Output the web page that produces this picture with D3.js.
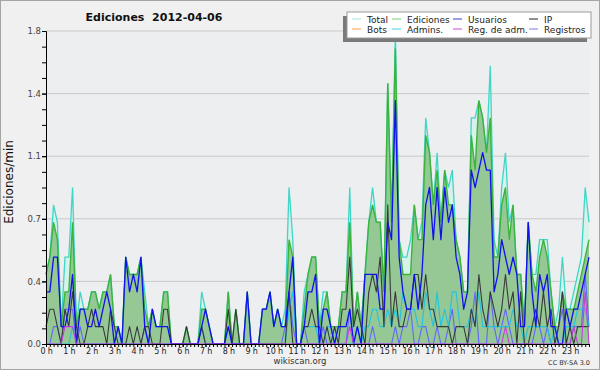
<!DOCTYPE html>
<html>
<head>
<meta charset="utf-8">
<title>Ediciones 2012-04-06</title>
<script src="https://cdn.jsdelivr.net/npm/d3@7"></script>
<style>
  body { margin: 0; background: #fff; }
  svg text { font-family: "DejaVu Sans", sans-serif; }
</style>
</head>
<body>
<svg id="chart" width="600" height="370"></svg>
<script>
// 10-minute bins, values in edits per minute
var total = [0.4,0.5,0.8,0.7,0.1,0.5,0.5,0.9,0.1,0.3,0.2,0.2,0.3,0.3,0.2,0.3,0.3,0.4,0.1,0.1,
  0,0.5,0.4,0.4,0.4,0.5,0.3,0.1,0.2,0.1,0.1,0.3,0.3,0,0,0,0,0.1,0,0,
  0,0.3,0.2,0.1,0,0,0,0,0.3,0,0.2,0,0,0.3,0,0,0,0.2,0.2,0.3,
  0.1,0.2,0.1,0.2,0.9,0.6,0,0,0.3,0.4,0.5,0.5,0.1,0.3,0.3,0.1,0.1,0.1,0.3,0.3,
  0.9,0.1,0.3,0.1,0.4,0.7,0.9,0.7,0.7,0.3,1.5,0.7,1.8,0.6,0.5,0.5,0.6,0.8,0.6,0.7,
  1.3,1.1,0.8,1.1,0.7,1.0,0.9,1.0,0.6,0.5,0.3,0.3,1.3,1.3,1.4,1.3,1.1,1.6,0.6,0.5,
  0.9,1.1,0.7,0.8,0.4,0.4,0.1,0.7,0.4,0.4,0.6,0.6,0.6,0.3,0.1,0.2,0.5,0.2,0.2,0.3,
  0.4,0.5,0.9,0.7];
var ediciones = [0.4,0.5,0.7,0.6,0.1,0.3,0.3,0.7,0.1,0.2,0.2,0.2,0.3,0.3,0.2,0.3,0.3,0.4,0.1,0.1,
  0,0.5,0.4,0.4,0.4,0.5,0.2,0.1,0.2,0.1,0.1,0.3,0.3,0,0,0,0,0.1,0,0,
  0,0.2,0.2,0.1,0,0,0,0,0.3,0,0.2,0,0,0.3,0,0,0,0.2,0.2,0.3,
  0.1,0.2,0.1,0.1,0.6,0.5,0,0,0.2,0.4,0.5,0.5,0.1,0.2,0.3,0.1,0.1,0.1,0.3,0.3,
  0.7,0.1,0.3,0.1,0.4,0.7,0.8,0.7,0.7,0.3,1.5,0.7,1.7,0.6,0.4,0.4,0.4,0.8,0.6,0.6,
  1.2,1.1,0.8,1.0,0.7,1.0,0.8,0.8,0.6,0.5,0.3,0.3,1.2,1.0,1.4,1.3,1.1,1.3,0.5,0.5,
  0.8,0.9,0.6,0.8,0.4,0.4,0.1,0.7,0.4,0.3,0.5,0.6,0.5,0.3,0.1,0.1,0.3,0.2,0.2,0.2,
  0.3,0.4,0.5,0.6];
var usuarios = [0.3,0.3,0.5,0.5,0.1,0.1,0.2,0.4,0,0.2,0.2,0.1,0.1,0.2,0.1,0.2,0.3,0.2,0,0.1,
  0,0.5,0.3,0.4,0.3,0.5,0.1,0,0.2,0.1,0.1,0.1,0.1,0,0,0,0,0,0,0,
  0,0.1,0.2,0.1,0,0,0,0,0.1,0,0,0,0,0.3,0,0,0,0.2,0.2,0.3,
  0.1,0.2,0.1,0.1,0.3,0.5,0,0,0.1,0.3,0.3,0.4,0,0.2,0.2,0.1,0,0.1,0.1,0.1,
  0.2,0,0.1,0,0.4,0.4,0.4,0.4,0.2,0.2,0.7,0.6,1.4,0.5,0.3,0.2,0.2,0.4,0.2,0.4,
  0.8,0.9,0.6,0.9,0.6,0.9,0.7,0.8,0.5,0.4,0.2,0.3,1.0,0.9,1.0,1.1,1.0,1.0,0.3,0.4,
  0.6,0.5,0.4,0.5,0.4,0.1,0.1,0.7,0.3,0.1,0.4,0.3,0.4,0.1,0.1,0,0,0.2,0.1,0.2,
  0.2,0.3,0.4,0.5];
var ip = [0.1,0.2,0.2,0.1,0,0.2,0.1,0.3,0.1,0,0,0.1,0.2,0.1,0.1,0.1,0,0.2,0.1,0,
  0,0,0.1,0,0.1,0,0.1,0.1,0,0,0,0.2,0.2,0,0,0,0,0.1,0,0,
  0,0.1,0,0,0,0,0,0,0.2,0,0.2,0,0,0,0,0,0,0,0,0,
  0,0,0,0,0.3,0,0,0,0.1,0.1,0.2,0.1,0.1,0,0.1,0,0.1,0,0.2,0.2,
  0.5,0.1,0.2,0.1,0,0.3,0.4,0.3,0.5,0.1,0.8,0.1,0.3,0.1,0.1,0.2,0.2,0.4,0.4,0.2,
  0.4,0.2,0.2,0.1,0.1,0.1,0.1,0,0.1,0.1,0.1,0,0.2,0.1,0.4,0.2,0.1,0.3,0.2,0.1,
  0.2,0.4,0.2,0.3,0,0.3,0,0,0.1,0.2,0.1,0.3,0.1,0.2,0,0.1,0.3,0,0.1,0,
  0.1,0.1,0.1,0.1];
var bots = [0,0,0,0,0,0,0,0,0,0,0,0,0,0,0,0,0,0,0,0,
  0,0,0,0,0,0,0,0,0,0,0,0,0,0,0,0,0,0,0,0,
  0,0,0,0,0,0,0,0,0,0,0,0,0,0,0,0,0,0,0,0,
  0,0,0,0,0,0,0,0,0,0,0,0,0,0,0,0,0,0,0,0,
  0,0,0,0,0,0,0,0,0,0,0,0,0,0,0,0,0,0,0,0,
  0,0,0,0,0,0,0,0,0,0,0,0,0,0,0,0,0,0,0,0,
  0,0,0,0,0,0,0,0,0,0,0,0,0,0,0,0,0,0,0,0,
  0,0,0,0];
var admins = [0,0,0,0,0,0,0,0.1,0,0,0,0,0,0,0,0,0,0,0,0,
  0,0,0,0,0,0,0,0,0,0,0,0,0,0,0,0,0,0,0,0,
  0,0.1,0,0,0,0,0,0,0.1,0,0,0,0,0,0,0,0,0,0,0,
  0,0,0,0,0.2,0.3,0,0,0.1,0.1,0.1,0.1,0,0,0.1,0.1,0,0,0,0,
  0,0,0.1,0,0.1,0.1,0.2,0.2,0.1,0.1,0.2,0.1,0.2,0.1,0.3,0.2,0.2,0.2,0.1,0.1,
  0.3,0.2,0.1,0.3,0.1,0.2,0.1,0.3,0.3,0.1,0.1,0.1,0.2,0.1,0.3,0.1,0.1,0.1,0.1,0.1,
  0.1,0.1,0.1,0.2,0.1,0.1,0,0.1,0.1,0.1,0.1,0.1,0.1,0,0.1,0,0,0.1,0.1,0.1,
  0.2,0.2,0.2,0.1];
var regAdm = [0,0,0,0,0,0.1,0.1,0.1,0,0,0,0,0,0,0,0,0,0,0,0,
  0,0,0,0,0,0,0,0,0,0,0,0,0,0,0,0,0,0,0,0,
  0,0,0,0,0,0,0,0,0,0,0,0,0,0,0,0,0,0,0,0,
  0,0,0,0,0,0,0,0,0,0,0,0,0,0,0,0,0,0,0,0,
  0.1,0,0,0,0,0,0,0,0,0,0,0,0,0,0,0,0,0,0,0,
  0,0,0,0,0,0,0,0,0,0,0,0,0,0,0,0,0,0,0,0,
  0,0.1,0,0,0,0,0,0,0,0,0,0,0,0,0,0,0,0,0,0.1,
  0,0,0.3,0];
var registros = [0,0,0.1,0.1,0,0.2,0.2,0.2,0,0.1,0,0,0,0,0,0,0,0,0,0,
  0,0,0,0,0,0,0.1,0,0,0,0,0,0,0,0,0,0,0,0,0,
  0,0.1,0,0,0,0,0,0,0,0,0,0,0,0,0,0,0,0,0,0,
  0,0,0,0.1,0.3,0.1,0,0,0.1,0,0,0,0,0.1,0,0,0,0,0,0,
  0.2,0,0,0,0,0,0.1,0,0,0,0,0,0.1,0,0.1,0.1,0.2,0,0,0.1,
  0.1,0,0,0.1,0,0,0.1,0.2,0,0,0,0,0.1,0.3,0,0,0,0.3,0.1,0,
  0.1,0.2,0.1,0,0,0,0,0,0,0.1,0.1,0,0.1,0,0,0.1,0.2,0,0,0.1,
  0.1,0.1,0.4,0.1];

var hourLabels = ["0 h","1 h","2 h","3 h","4 h","5 h","6 h","7 h","8 h","9 h","10 h","11 h",
  "12 h","13 h","14 h","15 h","16 h","17 h","18 h","19 h","20 h","21 h","22 h","23 h"];
var yTicks = [0, 0.36, 0.72, 1.08, 1.44, 1.8];
var yTickLabels = ["0.0","0.4","0.7","1.1","1.4","1.8"];

var svg = d3.select("#chart"),
    W = 600, H = 370,
    pL = 46, pR = 589, pT = 31, pB = 344;

// backgrounds
svg.append("rect").attr("x", 0).attr("y", 0).attr("width", W).attr("height", H)
  .attr("fill", "#f0f0f0").attr("stroke", "#a4a4a4").attr("stroke-width", 2);
svg.append("rect").attr("x", pL).attr("y", pT).attr("width", pR - pL).attr("height", pB - pT)
  .attr("fill", "#edeef0");

var x = d3.scaleLinear().domain([0, total.length - 1]).range([pL, pR]);
var y = d3.scaleLinear().domain([0, 1.8]).range([pB, pT]);

// grid
svg.append("g").selectAll("line").data(yTicks.slice(1)).enter().append("line")
  .attr("x1", pL).attr("x2", pR)
  .attr("y1", function(d) { return y(d); }).attr("y2", function(d) { return y(d); })
  .attr("stroke", "#c9c9c9").attr("stroke-width", 1);

var area = function(vals) {
  return d3.area().x(function(d, i) { return x(i); }).y0(y(0)).y1(function(d) { return y(d); })(vals);
};
var line = function(vals) {
  return d3.line().x(function(d, i) { return x(i); }).y(function(d) { return y(d); })(vals);
};

var plot = svg.append("g");
plot.append("path").attr("d", area(total)).attr("fill", "#d8f1eb");
plot.append("path").attr("d", area(ediciones)).attr("fill", "#95c895");
plot.append("path").attr("d", line(total)).attr("fill", "none").attr("stroke", "#3ed6c6").attr("stroke-width", 1.3);
plot.append("path").attr("d", line(ediciones)).attr("fill", "none").attr("stroke", "#3cb43c").attr("stroke-width", 1.4);

var series = [
  { vals: registros, color: "#6464ff", w: 1.1 },
  { vals: admins, color: "#22c4dc", w: 1.1 },
  { vals: ip, color: "#3a3a3a", w: 1.1 },
  { vals: bots, color: "#ff9a30", w: 1 },
  { vals: usuarios, color: "#1010f0", w: 1.3 },
  { vals: regAdm, color: "#c83ce0", w: 1.1 }
];
series.forEach(function(s) {
  if (d3.max(s.vals) === 0) return;
  plot.append("path").attr("d", line(s.vals)).attr("fill", "none")
    .attr("stroke", s.color).attr("stroke-width", s.w).attr("stroke-linejoin", "round");
});

// axes
var yMinor = d3.range(0, 21).map(function(k) { return k * 0.09; });
svg.append("g").attr("transform", "translate(" + pL + ",0)")
  .call(d3.axisLeft(y).tickValues(yMinor).tickFormat("").tickSize(4).tickSizeOuter(0));
var yAx = svg.append("g").attr("transform", "translate(" + pL + ",0)")
  .call(d3.axisLeft(y).tickValues(yTicks).tickFormat(function(d, i) { return yTickLabels[i]; })
    .tickSize(4).tickPadding(1).tickSizeOuter(0));
yAx.selectAll("text").attr("font-size", 8.5).attr("fill", "#444").attr("font-family", "DejaVu Sans");

svg.append("g").attr("transform", "translate(0," + pB + ")")
  .call(d3.axisBottom(x).tickValues(d3.range(0, total.length)).tickFormat("").tickSize(3).tickSizeOuter(0));
var hx = d3.scaleLinear().domain([0, (total.length - 1) / 6]).range([pL, pR]);
var xAx = svg.append("g").attr("transform", "translate(0," + pB + ")")
  .call(d3.axisBottom(hx).tickValues(d3.range(0, 24)).tickFormat(function(d) { return hourLabels[d]; })
    .tickSize(3).tickPadding(1).tickSizeOuter(0));
xAx.selectAll("text").attr("font-size", 8).attr("fill", "#222").attr("font-family", "DejaVu Sans")
  .attr("letter-spacing", -0.2);
svg.selectAll(".domain").attr("stroke", "#000");
svg.selectAll(".tick line").attr("stroke", "#000");

// titles
svg.append("text").attr("x", 154).attr("y", 21).attr("text-anchor", "middle")
  .attr("font-size", 11).attr("font-weight", "bold").attr("fill", "#111")
  .style("white-space", "pre").text("Ediciones  2012-04-06");
svg.append("text").attr("transform", "translate(13,182) rotate(-90)").attr("text-anchor", "middle")
  .attr("font-size", 12).attr("font-family", "DejaVu Sans Mono").attr("fill", "#111").text("Ediciones/min");
svg.append("text").attr("x", 300).attr("y", 364).attr("text-anchor", "middle")
  .attr("font-size", 8.5).attr("fill", "#333").text("wikiscan.org");
svg.append("text").attr("x", 590).attr("y", 365).attr("text-anchor", "end")
  .attr("font-size", 6.5).attr("fill", "#333").text("CC BY-SA 3.0");

// legend
var legendNames = ["Total","Ediciones","Usuarios","IP","Bots","Admins.","Reg. de adm.","Registros"];
var legendColors = ["#a8e6e2","#7ccc7c","#3c3cdc","#202020","#ffa040","#44d0e0","#d048e0","#7878f0"];
var colX = [352, 392, 453, 529];
var lg = svg.append("g");
lg.append("rect").attr("x", 343).attr("y", 16).attr("width", 244).attr("height", 26).attr("fill", "#7a7a7a");
lg.append("rect").attr("x", 347).attr("y", 12).attr("width", 244).attr("height", 26)
  .attr("fill", "#fff").attr("stroke", "#9a9a9a").attr("stroke-width", 1);
legendNames.forEach(function(name, i) {
  var cx = colX[i % 4], cy = i < 4 ? 19 : 29;
  lg.append("line").attr("x1", cx).attr("x2", cx + 9).attr("y1", cy).attr("y2", cy)
    .attr("stroke", legendColors[i]).attr("stroke-width", 1);
  lg.append("text").attr("x", cx + 15).attr("y", cy + 3.5).attr("font-size", 9).attr("fill", "#222").text(name);
});
</script>
</body>
</html>
